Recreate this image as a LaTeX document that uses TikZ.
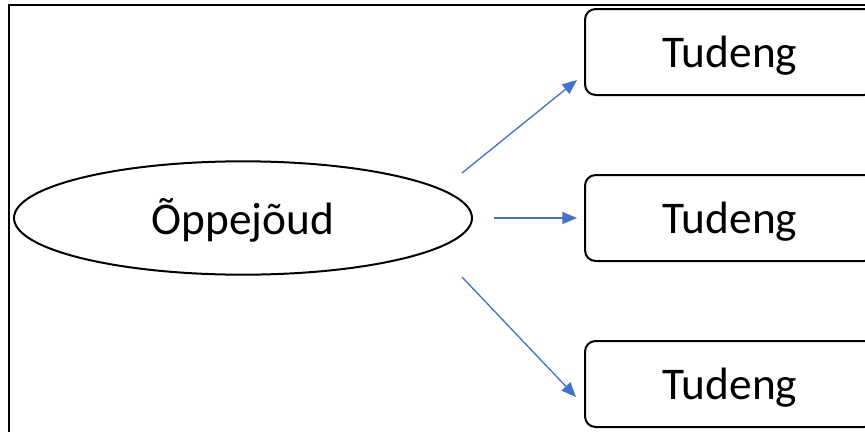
\documentclass[tikz,border=0pt]{standalone}
\usepackage{fontspec}
\setmainfont{Carlito}
\usetikzlibrary{shapes,arrows.meta,positioning,calc}
\definecolor{arrowblue}{HTML}{4472C4}

\begin{document}
\begin{tikzpicture}[x=0.75pt, y=-0.75pt, node distance=124.5pt,
    every node/.style={font=\fontsize{34}{40}\selectfont},
    student/.style={draw, rectangle, rounded corners=8pt, line width=1.5pt, minimum width=217.5pt, minimum height=64.5pt, text height=28.5pt},
    link/.style={-{Triangle[length=11pt,width=9pt]}, arrowblue, line width=1pt}]
    \path[use as bounding box] (0,0) rectangle (865,432);
    \clip (0,0) rectangle (865,432);
    \draw [line width=1.3pt] (9,432) -- (9,5) -- (870,5);

    \node (teacher) [draw, ellipse, line width=1.5pt, minimum width=343.5pt, minimum height=85pt, text height=30pt] at (243,218) {Õppejõud};
    \node (s2) [student] at (730,218) {Tudeng};
    \node (s1) [student, above of=s2] {Tudeng};
    \node (s3) [student, below of=s2] {Tudeng};

    \draw [link] ([shift={(-11,-45)}]teacher.east) -- ([shift={(-7,-16)}]s1.south west);
    \draw [link] ([xshift=15.75pt]teacher.east) -- ([xshift=-5.25pt]s2.west);
    \draw [link] ([shift={(-11,59)}]teacher.east) -- ([shift={(-8,13)}]s3.west);
\end{tikzpicture}
\end{document}
